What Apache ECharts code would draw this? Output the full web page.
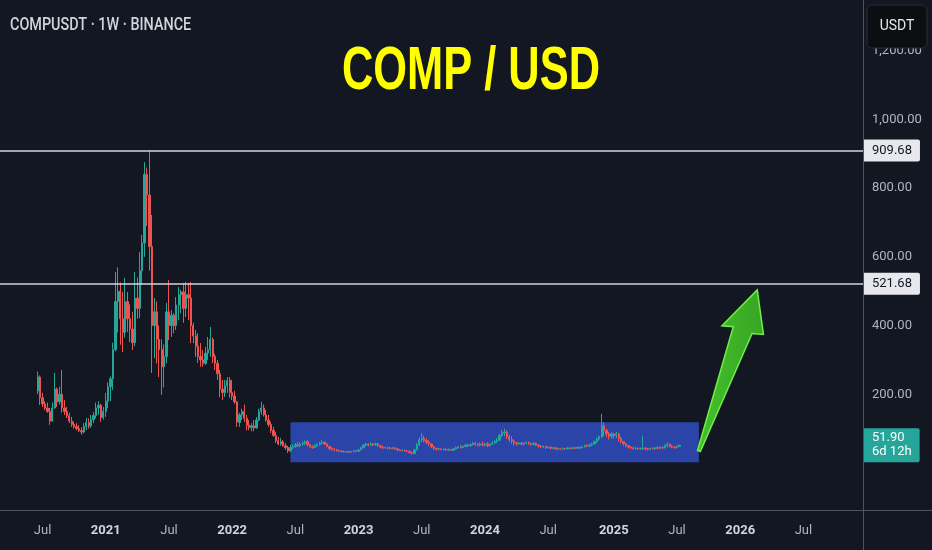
<!DOCTYPE html>
<html>
<head>
<meta charset="utf-8">
<script src="https://cdn.jsdelivr.net/npm/echarts@6/dist/echarts.min.js"></script>
<style>
html,body{margin:0;padding:0;background:#131722;}
#c{width:932px;height:550px;}
</style>
</head>
<body>
<div id="c"></div>
<script>
// ---------- text ----------
const symbolText = 'COMPUSDT · 1W · BINANCE';
const titleText = 'COMP / USD';
const currencyText = 'USDT';

// ---------- axis ----------
const axisStartWeek = '2020-03-09';
const axisWeekCount = 355;
const firstCandleWeek = '2020-06-22';
const yTickValues = [200, 400, 600, 800, 1000, 1200];
const yMin = -137;
const yMax = 1348;

// ---------- annotations ----------
const levelLines = [909.68, 521.68];
const lastPrice = 51.90;
const countdown = '6d 12h';
const rangeBoxStart = ['2022-06-20', 2];
const rangeBoxEnd = ['2025-09-08', 118.5];
const arrowTail = ['2025-09-08', 35];
const arrowTip = ['2026-02-23', 504];

// ---------- weekly candles [open, close, low, high] ----------
const candles2020 = [
  [210,250,200,266],[250,190,169,255],[190,172,163,204],[172,160,154,180],[160,150,146,176],
  [150,122,111,160],[122,160,120,176],[160,215,158,262],[215,178,163,220],[178,200,170,222],
  [200,160,146,271],[160,150,140,183],[150,138,131,163],[138,122,116,146],[122,112,105,134],
  [112,106,100,120],[106,100,95,116],[100,94,90,110],[94,90,82,104],[90,106,86,116],
  [106,118,96,131],[118,108,100,130],[108,126,102,140],[126,138,116,148],[138,160,130,176],
  [160,168,140,180],[168,132,120,172],[132,150,126,163]
];
const candles2021 = [
  [150,180,134,204],[180,222,160,234],[222,245,180,252],[245,330,212,350],[330,470,325,556],
  [470,500,380,570],[500,420,344,525],[420,380,323,498],[380,470,365,539],[470,420,381,498],
  [420,390,352,462],[390,350,329,440],[350,480,340,556],[480,450,420,540],[450,560,422,614],
  [560,640,518,664],[640,840,600,876],[840,780,690,860],[780,630,560,909.68],[630,400,262,722],
  [400,440,305,480],[440,360,290,470],[360,330,250,400],[330,280,198,360],[280,310,220,345],
  [310,440,290,466],[440,400,358,533],[400,430,367,445],[430,400,378,436],[400,460,387,483],
  [460,490,416,512],[490,498,436,504],[498,450,408,524],[450,490,425,527],[490,480,416,524],
  [480,400,349,527],[400,370,349,408],[370,340,309,387],[340,310,291,378],[310,300,280,349],
  [300,290,280,329],[290,320,285,338],[320,330,300,367],[330,360,309,396],[360,310,291,365],
  [310,290,271,318],[290,260,242,300],[260,215,192,271],[215,205,183,242],[205,225,192,242],
  [225,240,204,250],[240,205,190,250]
];
const candles2022 = [
  [205,195,183,242],[195,178,172,210],[178,120,105,180],[118,140,105,146],[140,150,125,158],
  [150,130,120,170],[130,110,95,140],[110,103,95,125],[103,108,92,116],[108,102,92,125],
  [102,125,100,134],[125,150,122,158],[150,160,140,178],[160,140,135,170],[140,125,120,154],
  [125,112,105,140],[112,95,87,120],[95,80,76,105],[80,65,58,90],[65,55,52,76],
  [55,62,50,73],[62,50,47,67],[50,45,38,58],[45,35,29,50],[35,45,31,52],
  [45,48,40,55],[48,53,44,58],[53,50,46,60],[50,55,47,61],[55,58,50,63],
  [58,62,52,66],[62,53,48,67],[53,47,44,56],[47,45,41,52],[45,50,43,55],
  [50,54,46,58],[54,58,50,62],[58,60,54,67],[60,55,52,63],[55,48,45,58],
  [48,42,36,50],[42,40,36,46],[40,38,34,43],[38,36,33,41],[36,35,32,39],
  [35,33,31,38],[33,32,30,36],[32,33,30,35],[33,31,29,35],[31,33,30,35],
  [33,35,31,38],[35,34,32,37]
];
const candles2023 = [
  [34,38,33,40],[38,44,37,47],[44,52,42,56],[52,55,48,59],[55,52,48,58],
  [52,55,49,60],[55,53,49,58],[53,56,50,59],[56,50,47,58],[50,46,43,53],
  [46,44,40,50],[44,45,41,48],[45,43,40,47],[43,42,39,46],[42,44,40,47],
  [44,41,38,46],[41,38,35,43],[38,36,34,40],[36,37,34,40],[37,35,33,39],
  [35,34,31,38],[34,30,27,36],[30,27,24,33],[27,38,26,42],[38,52,36,58],
  [52,68,50,75],[68,72,60,87],[72,65,60,80],[65,60,55,72],[60,55,50,66],
  [55,47,44,58],[47,42,38,50],[42,40,36,45],[40,41,37,44],[41,39,37,43],
  [39,40,36,43],[40,38,35,42],[38,39,35,42],[39,37,35,41],[37,41,36,44],
  [41,44,39,48],[44,47,42,50],[47,45,42,52],[45,48,43,52],[48,52,46,56],
  [52,50,46,56],[50,53,47,58],[53,57,50,62],[57,54,50,62],[54,52,48,58],
  [52,55,48,60],[55,53,48,62]
];
const candles2024 = [
  [53,55,48,58],[55,50,46,61],[50,54,48,58],[54,58,52,64],[58,62,55,68],
  [62,66,58,73],[66,80,64,85],[80,88,76,96],[88,90,78,100],[90,76,70,95],
  [76,68,62,82],[68,64,56,78],[64,58,50,68],[58,56,50,62],[56,58,52,61],
  [58,55,51,61],[55,57,51,60],[57,60,54,62],[60,56,53,62],[56,54,50,59],
  [54,57,51,61],[57,52,49,59],[52,49,45,54],[49,47,43,52],[47,48,43,51],
  [48,45,41,50],[45,46,41,49],[46,43,39,48],[43,44,40,47],[44,41,38,46],
  [41,42,36,45],[42,40,37,44],[40,42,38,45],[42,41,38,44],[41,43,39,46],
  [43,42,39,46],[42,44,40,47],[44,43,40,47],[43,45,41,48],[45,44,41,48],
  [44,47,42,50],[47,50,45,53],[50,49,46,54],[49,52,46,56],[52,55,49,59],
  [55,62,53,66],[62,70,58,74],[70,76,66,80],[76,108,72,143],[108,95,78,118],
  [95,85,75,100],[85,78,68,90]
];
const candles2025 = [
  [78,84,70,90],[84,80,70,88],[80,85,72,90],[85,72,62,88],[72,62,56,76],
  [62,56,50,64],[56,50,46,58],[50,46,42,52],[46,44,40,49],[44,42,38,47],
  [42,43,38,46],[43,41,38,45],[41,42,38,45],[42,43,38,80],[43,41,37,46],
  [41,40,36,44],[40,42,38,45],[42,41,38,45],[41,44,39,47],[44,43,40,48],
  [43,45,40,49],[45,44,40,48],[44,50,42,54],[50,55,46,60],[55,48,45,57],
  [48,46,43,52],[46,45,41,49],[45,48,42,52],[48,51.90,46,53]
];

// ---------- build ----------
const DAY = 864e5;
const startMs = Date.parse(axisStartWeek + 'T00:00:00Z');
const weeks = [];
for (let i = 0; i < axisWeekCount; i++) {
  weeks.push(new Date(startMs + i * 7 * DAY).toISOString().slice(0, 10));
}
const firstIdx = weeks.indexOf(firstCandleWeek);
const candles = [].concat(candles2020, candles2021, candles2022, candles2023, candles2024, candles2025);
const seriesData = candles.map((c, i) => [weeks[firstIdx + i], c[0], c[1], c[2], c[3]]);

const UP = '#26a69a', DOWN = '#ef5350';
const fmt = v => v.toLocaleString('en-US', {minimumFractionDigits: 2, maximumFractionDigits: 2});

const chart = echarts.init(document.getElementById('c'));
chart.setOption({
  animation: false,
  backgroundColor: '#131722',
  grid: {left: 0, right: 69, top: 0, bottom: 40, containLabel: false},
  xAxis: {
    type: 'category',
    data: weeks,
    boundaryGap: true,
    axisLine: {show: false},
    axisTick: {show: false},
    splitLine: {show: false},
    axisLabel: {
      color: '#b2b5be',
      fontSize: 13,
      fontFamily: 'Roboto',
      margin: 14,
      interval: function (idx, val) {
        const d = new Date(val + 'T00:00:00Z');
        const m = d.getUTCMonth();
        return (m === 0 || m === 6) && d.getUTCDate() <= 7;
      },
      formatter: function (val) {
        const d = new Date(val + 'T00:00:00Z');
        return d.getUTCMonth() === 0 ? '{y|' + d.getUTCFullYear() + '}' : 'Jul';
      },
      rich: {y: {fontWeight: 'bold', color: '#d1d4dc', fontSize: 13, fontFamily: 'Roboto'}}
    }
  },
  yAxis: {
    type: 'value',
    position: 'right',
    min: yMin,
    max: yMax,
    axisLine: {show: false},
    axisTick: {show: false},
    splitLine: {show: false},
    axisLabel: {
      customValues: yTickValues,
      color: '#b2b5be',
      fontSize: 13,
      fontFamily: 'Roboto',
      margin: 9,
      formatter: fmt
    }
  },
  series: [{
    type: 'candlestick',
    data: seriesData,
    dimensions: ['date', 'open', 'close', 'low', 'high'],
    encode: {x: 'date', y: ['open', 'close', 'low', 'high']},
    barWidth: 1.8,
    itemStyle: {color: UP, color0: DOWN, borderColor: UP, borderColor0: DOWN, borderWidth: 1},
    markArea: {
      silent: true,
      itemStyle: {color: '#2a44a8'},
      data: [[{xAxis: rangeBoxStart[0], yAxis: rangeBoxStart[1]}, {xAxis: rangeBoxEnd[0], yAxis: rangeBoxEnd[1]}]]
    },
    markLine: {
      silent: true,
      symbol: 'none',
      animation: false,
      data: [
        ...levelLines.map(v => ({
          yAxis: v,
          lineStyle: {color: '#d1d4dc', width: 1.5, type: 'solid'},
          label: {
            show: true, position: 'end', distance: 1,
            formatter: fmt(v),
            color: '#131722', backgroundColor: '#e6e8ee',
            padding: [5, 8, 4, 8], borderRadius: [0, 2, 2, 0],
            fontSize: 13, fontFamily: 'Roboto'
          }
        })),
        {
          yAxis: lastPrice,
          lineStyle: {color: 'rgba(0,0,0,0)', width: 1},
          label: {
            show: true, position: 'end', distance: 1,
            formatter: lastPrice.toFixed(2) + '\n' + countdown,
            color: '#ffffff', backgroundColor: UP,
            padding: [3, 8, 3, 8], borderRadius: [0, 2, 2, 0],
            lineHeight: 14, fontSize: 13, fontFamily: 'Roboto'
          }
        }
      ]
    }
  }],
  graphic: [
    {type: 'line', id: 'vsep', z: 50, shape: {x1: 863.5, y1: 0, x2: 863.5, y2: 550}, style: {stroke: '#50535e', lineWidth: 1}},
    {type: 'line', id: 'hsep', z: 50, shape: {x1: 0, y1: 510.5, x2: 932, y2: 510.5}, style: {stroke: '#50535e', lineWidth: 1}},
    {type: 'text', id: 'sym', z: 60, x: 10, y: 25, scaleX: 0.8,
      style: {text: symbolText, fill: '#d1d4dc', font: '500 18px Roboto', textAlign: 'left', textVerticalAlign: 'middle'}},
    {type: 'text', id: 'title', z: 60, x: 471, y: 72, scaleX: 0.7,
      style: {text: titleText, fill: '#ffff00', font: 'bold 62px "Liberation Sans"', textAlign: 'center', textVerticalAlign: 'middle'}},
    {type: 'rect', id: 'ccyBox', z: 70, shape: {x: 867, y: 5, width: 60, height: 43, r: 5},
      style: {fill: '#0d0e12', stroke: '#2a2e39', lineWidth: 1}},
    {type: 'text', id: 'ccyText', z: 71, x: 897, y: 26,
      style: {text: currencyText, fill: '#e6e8ee', font: '14px Roboto', textAlign: 'center', textVerticalAlign: 'middle'}}
  ]
});

// arrow annotation from data coordinates
const T = chart.convertToPixel({gridIndex: 0}, [weeks.indexOf(arrowTail[0]), arrowTail[1]]);
const P = chart.convertToPixel({gridIndex: 0}, [weeks.indexOf(arrowTip[0]), arrowTip[1]]);
const dx = P[0] - T[0], dy = P[1] - T[1];
const L = Math.hypot(dx, dy);
const ux = dx / L, uy = dy / L;
const nx = -uy, ny = ux;
const a = L * 0.75, w0 = 1.5, w1 = 10, h = 21;
const pt = (along, off) => [T[0] + ux * along + nx * off, T[1] + uy * along + ny * off];
const arrowPts = [pt(0, -w0), pt(a, -w1), pt(a - 3, -h), [P[0], P[1]], pt(a + 3, h), pt(a, w1), pt(0, w0)];
chart.setOption({
  graphic: [{
    type: 'polygon', id: 'arrow', z: 65,
    shape: {points: arrowPts},
    style: {
      fill: new echarts.graphic.LinearGradient(0, 0, 1, 0, [{offset: 0, color: '#45c02c'}, {offset: 1, color: '#38a524'}]),
      stroke: '#6df04a', lineWidth: 1.5, lineJoin: 'miter'
    }
  }]
});
</script>
</body>
</html>
